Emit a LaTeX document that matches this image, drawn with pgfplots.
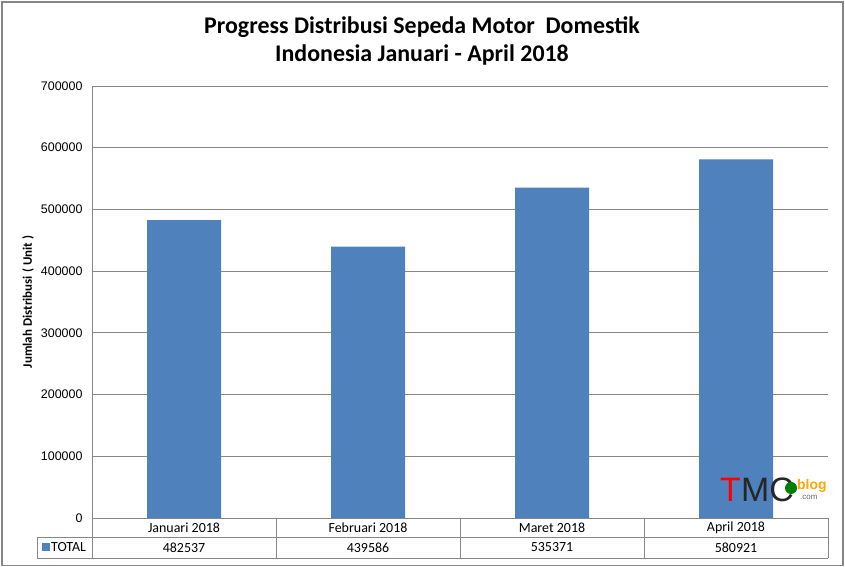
\documentclass[border=0pt]{standalone}
\usepackage{pgfplots}
\pgfplotsset{compat=1.18}
\usepackage{fontspec}
\setmainfont{Carlito}
\newfontfamily\tickfont{Liberation Sans}
\newfontfamily\logofont{Liberation Sans}
\definecolor{barblue}{HTML}{4F81BD}
\definecolor{gridgray}{HTML}{868686}
\begin{document}
\begin{tikzpicture}[x=1bp,y=1bp]
\fill[white] (0,0) rectangle (845,567);
\draw[gridgray,line width=1.3bp] (2,1.5) rectangle (843,565);
\node[font=\fontsize{24}{29}\selectfont\bfseries,align=center] at (422,526)
  {Progress Distribusi Sepeda Motor\ \ Domestik\\Indonesia Januari - April 2018};
\begin{axis}[
  at={(92bp,49bp)}, anchor=south west,
  width=736bp, height=432bp, scale only axis,
  xmin=-0.5, xmax=3.5, ymin=0, ymax=700000,
  axis lines*=left,
  axis line style={gridgray,line width=0.8bp},
  xtick=\empty,
  ytick={0,100000,...,700000},
  major tick length=0pt,
  ymajorgrids, grid style={gridgray,line width=0.8bp},
  scaled y ticks=false,
  /pgf/number format/assume math mode=true,
  yticklabel={\pgfmathprintnumber[fixed,1000 sep={}]{\tick}},
  yticklabel style={font=\tickfont\fontsize{12.5}{14}\selectfont,xshift=-6bp},
  ylabel={Jumlah Distribusi ( Unit )},
  ylabel style={font=\fontsize{13}{15}\selectfont\bfseries,at={(axis description cs:-0.087,0.5)},anchor=center},
  ybar, bar width=74bp,
]
\addplot[fill=barblue,draw=none] coordinates {(0,482537) (1,439586) (2,535371) (3,580921)};
\end{axis}
% data table
\begin{scope}[gridgray,line width=0.8bp]
\draw (37,30) -- (828,30);
\draw (37,9) -- (828,9);
\draw (37,9) -- (37,30);
\foreach \xx in {92,276,460,644,828} \draw (\xx,49) -- (\xx,9);
\end{scope}
\begin{scope}[font=\fontsize{14}{16}\selectfont]
\node at (184,39.5) {Januari 2018};
\node at (368,39.5) {Februari 2018};
\node at (552,39.5) {Maret 2018};
\node at (736,39.5) {April 2018};
\node at (184,19.5) {482537};
\node at (368,19.5) {439586};
\node at (552,19.5) {535371};
\node at (736,19.5) {580921};
\fill[barblue] (42,15.5) rectangle (50,23.5);
\node[anchor=west,inner sep=0pt] at (51,19.5) {TOTAL};
\end{scope}
% logo
\node[anchor=base west,inner sep=0pt,font=\logofont\fontsize{34}{34}\selectfont,text=red] at (720,65) {T};
\node[anchor=base west,inner sep=0pt,font=\logofont\fontsize{34}{34}\selectfont,text=black!85] at (741,65) {MC};
\fill[green!50!black] (791,79) circle (6);
\node[anchor=base west,inner sep=0pt,font=\logofont\bfseries\fontsize{14}{14}\selectfont,text=orange!70!yellow] at (797,77) {blog};
\node[anchor=base west,inner sep=0pt,font=\logofont\fontsize{8}{8}\selectfont,text=black!60] at (800,67) {.com};
\end{tikzpicture}
\end{document}
